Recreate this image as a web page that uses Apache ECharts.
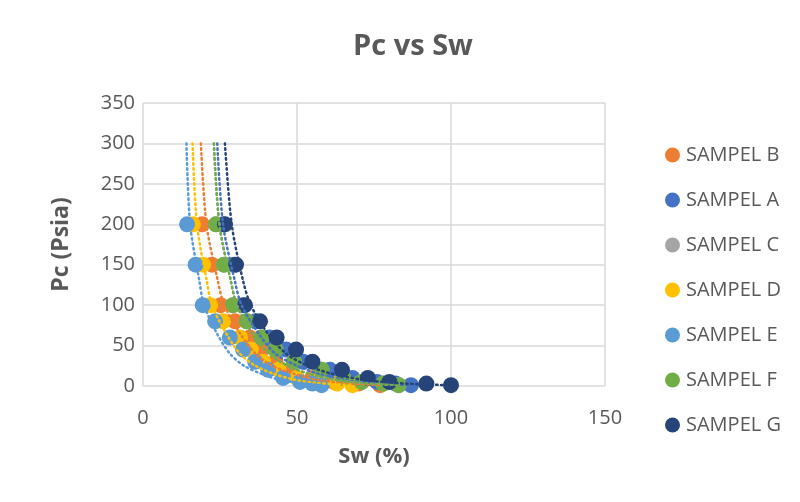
<!DOCTYPE html>
<html><head><meta charset="utf-8">
<script src="https://cdn.jsdelivr.net/npm/echarts@6/dist/echarts.min.js"></script>
<style>html,body{margin:0;padding:0;background:#fff}#c{width:800px;height:502px}</style>
</head><body><div id="c"></div>
<script>
// Pc levels (psia) of the measured points
const pcLevels = [200, 150, 100, 80, 60, 45, 30, 20, 10, 5, 3, 1];
// Sw (%) per sample at each Pc level
const swB = [19.2, 22.4, 25.2, 29.9, 34.7, 38.5, 43, 48, 55, 62, 70, 77];
const swA = [26, 29.5, 32.2, 36.5, 41, 46.5, 52, 60.7, 68, 76, 82, 87];
const swC = [23.7, 26.3, 29.2, 33.7, 38.5, 43, 49, 58, 65, 71, 78, 83];
const swD = [16.2, 19.5, 21.8, 26, 31.5, 35, 39, 44, 50, 56, 63, 68];
const swE = [14.3, 17.1, 19.4, 23.4, 28.2, 32.5, 36.4, 40.6, 45.5, 51, 55, 58];
const swF = [23.7, 26.3, 29.2, 33.7, 38.5, 43, 49, 58, 65, 71, 78, 83];
const swG = [26.6, 30.2, 33.1, 38, 43.4, 49.7, 55, 64.6, 73, 80, 92, 100];
// Trendline (dotted) readings: Pc levels and Sw per sample
const trendPc = [300, 200, 130, 100, 65, 40, 25, 15, 8, 4, 2, 1];
const trB = [18.8, 20.6, 24.3, 26.4, 31.5, 36.5, 42, 49, 56, 64, 72, 77];
const trA = [24.1, 26, 29.8, 32, 37.5, 43, 50, 57, 65, 74, 82, 87];
const trC = [23, 24.8, 28.5, 30.5, 35.5, 41, 47, 54, 62, 70, 78, 83];
const trD = [16.1, 17.5, 20.7, 22.4, 27, 31.5, 36.5, 42.5, 49, 56, 63, 68];
const trE = [14.1, 15.3, 18.3, 19.8, 24, 28.2, 32.8, 38.5, 44, 50, 55, 58];
const trF = [23, 24.8, 28.5, 30.5, 35.5, 41, 47, 54, 62, 70, 78, 83];
const trG = [26.6, 28.8, 32.5, 35, 40.5, 46.5, 53.5, 61.5, 71, 81, 91, 100];
const xTicks = [0, 50, 100, 150];
const yTicks = [0, 50, 100, 150, 200, 250, 300, 350];

const samples = [
  {name: 'SAMPEL B', sw: swB, tr: trB, color: '#ED7D31'},
  {name: 'SAMPEL A', sw: swA, tr: trA, color: '#4472C4'},
  {name: 'SAMPEL C', sw: swC, tr: trC, color: '#A5A5A5'},
  {name: 'SAMPEL D', sw: swD, tr: trD, color: '#FFC000'},
  {name: 'SAMPEL E', sw: swE, tr: trE, color: '#5B9BD5'},
  {name: 'SAMPEL F', sw: swF, tr: trF, color: '#70AD47'},
  {name: 'SAMPEL G', sw: swG, tr: trG, color: '#264478'}
];

const series = [];
samples.forEach((s, i) => {
  series.push({
    name: s.name, type: 'scatter', symbol: 'circle', symbolSize: 16,
    itemStyle: {color: s.color, opacity: 1},
    data: s.sw.map((x, k) => [x, pcLevels[k]]), z: 2 + i
  });
});
samples.forEach((s, i) => {
  series.push({
    name: s.name + ' trend', type: 'line', smooth: 0.3, symbol: 'none',
    lineStyle: {color: s.color, width: 2.5, type: [1.5, 3.5], cap: 'round'},
    data: s.tr.map((x, k) => [x, trendPc[k]]), z: 20 + i, silent: true
  });
});

const chart = echarts.init(document.getElementById('c'));
chart.setOption({
  animation: false,
  backgroundColor: '#fff',
  title: {text: 'Pc vs Sw', left: 408, top: 27, textAlign: 'center',
    textStyle: {fontFamily: 'Open Sans', fontWeight: 'bold', fontSize: 29, color: '#595959'}},
  grid: {left: 143, right: 195, top: 103, bottom: 116},
  legend: {
    orient: 'vertical', left: 660, top: 140, itemGap: 25, itemWidth: 15, itemHeight: 15,
    icon: 'circle', data: samples.map(s => s.name),
    textStyle: {fontFamily: 'Open Sans', fontSize: 20, color: '#595959', padding: [0, 0, 0, 1]}
  },
  xAxis: {
    type: 'value', min: xTicks[0], max: xTicks[xTicks.length - 1], interval: 50,
    name: 'Sw (%)', nameLocation: 'middle', nameGap: 60,
    nameTextStyle: {fontFamily: 'Open Sans', fontWeight: 'bold', fontSize: 22, color: '#595959'},
    axisLine: {show: false}, axisTick: {show: false},
    axisLabel: {fontFamily: 'Open Sans', fontSize: 20, color: '#595959', margin: 22},
    splitLine: {lineStyle: {color: '#D9D9D9', width: 1.5}}
  },
  yAxis: {
    type: 'value', min: yTicks[0], max: yTicks[yTicks.length - 1], interval: 50,
    name: 'Pc (Psia)', nameLocation: 'middle', nameGap: 70, nameRotate: 90,
    nameTextStyle: {fontFamily: 'Open Sans', fontWeight: 'bold', fontSize: 23, color: '#595959'},
    axisLine: {show: false}, axisTick: {show: false},
    axisLabel: {fontFamily: 'Open Sans', fontSize: 20, color: '#595959', margin: 8},
    splitLine: {lineStyle: {color: '#D9D9D9', width: 1.5}}
  },
  series: series
});
</script></body></html>
